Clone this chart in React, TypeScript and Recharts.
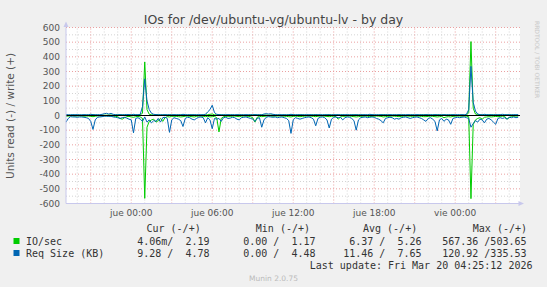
import { LineChart, Line, XAxis, YAxis, ReferenceLine, CartesianGrid } from "recharts"

// x values are minutes since Wed 00:00, one sample every 10 minutes
const startMinute = 1150
const endMinute = 3168
const stepMinutes = 10

// IO/sec, read (drawn below zero) and write
const ioRead = [
  5, 4, 3, 3, 4, 3, 3, 4, 5, 4,
  4, 6, 8, 5, 3, 3, 3, 2, 2, 3,
  4, 5, 6, 8, 20, 25, 15, 8, 6, 10,
  12, 8, 6, 10, 20, 565, 80, 40, 30, 25,
  45, 35, 20, 40, 15, 8, 10, 6, 5, 6,
  8, 10, 8, 5, 4, 6, 8, 10, 6, 4,
  4, 6, 8, 5, 10, 8, 6, 15, 112, 20,
  8, 6, 5, 6, 5, 4, 6, 8, 5, 4,
  4, 6, 8, 15, 45, 12, 6, 8, 6, 4,
  3, 4, 5, 4, 4, 3, 4, 5, 6, 8,
  10, 6, 5, 6, 8, 6, 5, 4, 4, 5,
  6, 8, 5, 4, 4, 5, 6, 8, 6, 5,
  8, 25, 10, 6, 5, 4, 4, 6, 8, 10,
  8, 6, 5, 4, 5, 8, 6, 5, 4, 5,
  6, 10, 8, 6, 5, 4, 5, 6, 8, 6,
  5, 4, 4, 5, 6, 5, 4, 5, 6, 8,
  8, 6, 5, 6, 8, 10, 8, 6, 15, 10,
  8, 10, 6, 5, 4, 4, 5, 4, 5, 8,
  567, 60, 30, 20, 15, 25, 12, 10, 8, 10,
  8, 6, 8, 6, 5, 6, 25, 15, 6, 5,
  4, 4,
]
const ioWrite = [
  3, 2, 2, 3, 2, 2, 3, 2, 2, 3,
  2, 3, 4, 3, 2, 2, 3, 2, 2, 3,
  3, 2, 3, 4, 5, 4, 3, 3, 4, 3,
  4, 3, 3, 5, 15, 365, 40, 8, 5, 4,
  5, 4, 3, 4, 3, 3, 4, 3, 2, 3,
  3, 4, 3, 2, 3, 3, 4, 3, 3, 2,
  3, 3, 4, 5, 8, 10, 5, 4, 6, 4,
  3, 3, 2, 3, 3, 2, 3, 4, 3, 3,
  2, 3, 3, 4, 5, 4, 3, 4, 3, 3,
  2, 3, 3, 2, 3, 3, 2, 3, 3, 4,
  5, 4, 3, 3, 4, 3, 3, 2, 3, 3,
  4, 5, 3, 3, 2, 3, 4, 5, 3, 3,
  3, 4, 3, 3, 2, 3, 3, 3, 4, 5,
  4, 3, 3, 2, 3, 4, 3, 3, 2, 3,
  3, 5, 4, 3, 3, 2, 3, 3, 4, 3,
  3, 2, 3, 3, 3, 2, 3, 3, 4, 4,
  5, 4, 3, 3, 4, 5, 4, 3, 4, 3,
  3, 4, 3, 3, 2, 3, 3, 2, 3, 20,
  504, 50, 10, 6, 5, 4, 4, 3, 3, 4,
  4, 3, 3, 3, 2, 3, 4, 3, 3, 2,
  3, 2,
]

// Req Size (KB), read and write
const reqRead = [
  45, 20, 8, 10, 10, 12, 10, 10, 12, 15,
  20, 40, 95, 30, 12, 10, 8, 5, 5, 6,
  5, 10, 12, 15, 20, 15, 12, 18, 25, 30,
  118, 20, 15, 25, 40, 10, 45, 30, 50, 35,
  40, 20, 45, 15, 12, 20, 115, 30, 15, 20,
  25, 35, 75, 20, 12, 15, 25, 30, 20, 12,
  10, 15, 50, 15, 30, 90, 20, 25, 20, 40,
  15, 12, 20, 18, 12, 15, 25, 30, 15, 12,
  10, 15, 20, 25, 40, 20, 15, 80, 30, 12,
  8, 10, 12, 10, 15, 12, 10, 15, 20, 35,
  122, 30, 15, 20, 25, 20, 15, 12, 10, 15,
  25, 70, 20, 12, 10, 15, 30, 85, 25, 12,
  10, 15, 12, 30, 15, 10, 12, 20, 35, 100,
  30, 15, 12, 10, 15, 12, 10, 12, 20, 25,
  35, 50, 20, 15, 12, 15, 25, 20, 25, 15,
  12, 10, 15, 20, 15, 12, 10, 15, 20, 30,
  40, 20, 15, 25, 40, 105, 30, 20, 40, 25,
  30, 60, 20, 15, 12, 15, 12, 10, 15, 20,
  80, 55, 35, 45, 25, 30, 50, 25, 20, 30,
  45, 60, 20, 15, 20, 15, 25, 12, 15, 10,
  15, 12,
]
const reqWrite = [
  6, 5, 5, 6, 5, 6, 5, 5, 6, 5,
  6, 8, 6, 5, 6, 5, 8, 12, 15, 10,
  14, 8, 6, 5, 6, 5, 6, 7, 6, 5,
  8, 6, 5, 8, 60, 250, 100, 40, 15, 8,
  6, 5, 6, 5, 6, 5, 6, 5, 6, 5,
  6, 5, 8, 6, 5, 6, 5, 6, 5, 6,
  5, 6, 8, 25, 40, 70, 20, 8, 6, 5,
  6, 5, 6, 5, 6, 5, 6, 5, 6, 5,
  6, 5, 6, 5, 6, 5, 6, 5, 10, 12,
  10, 12, 8, 6, 5, 6, 5, 6, 5, 6,
  8, 6, 5, 6, 5, 6, 5, 6, 5, 6,
  5, 6, 5, 6, 5, 6, 5, 6, 5, 6,
  5, 6, 5, 6, 5, 6, 5, 6, 5, 6,
  5, 6, 5, 6, 5, 8, 6, 5, 6, 5,
  6, 5, 6, 5, 6, 5, 6, 5, 6, 5,
  6, 5, 6, 5, 6, 5, 6, 5, 6, 5,
  6, 5, 6, 5, 6, 5, 6, 5, 6, 5,
  6, 5, 6, 5, 6, 5, 6, 5, 8, 40,
  335, 90, 30, 10, 6, 5, 8, 6, 5, 6,
  5, 6, 5, 6, 8, 6, 5, 6, 5, 6,
  5, 6,
]

const timeTicks = [1440, 1800, 2160, 2520, 2880]
const timeLabels = ["jue 00:00", "jue 06:00", "jue 12:00", "jue 18:00", "vie 00:00"]
const valueTicks = [-600, -500, -400, -300, -200, -100, 0, 100, 200, 300, 400, 500, 600]

// legend table
const seriesNames = ["IO/sec", "Req Size (KB)"]
const seriesColors = ["#00CC00", "#0066B3"]
const curValues = ["4.06m/  2.19", "9.28 /  4.78"]
const minValues = ["0.00 /  1.17", "0.00 /  4.48"]
const avgValues = ["6.37 /  5.26", "11.46 /  7.65"]
const maxValues = ["567.36 /503.65", "120.92 /335.53"]
const columnHeads = ["Cur (-/+)", "Min (-/+)", "Avg (-/+)", "Max (-/+)"]

const data = ioRead.map((v, i) => ({
  t: startMinute + i * stepMinutes,
  ioRead: -v,
  ioWrite: ioWrite[i],
  reqRead: -reqRead[i],
  reqWrite: reqWrite[i],
}))

// grid: grey every hour / 50 units, red every 3 hours / 100 units
const minorX: number[] = []
const majorX: number[] = []
for (let m = 1200; m < endMinute; m += 60) {
  if (m % 180 === 0) majorX.push(m)
  else minorX.push(m)
}
const minorY: number[] = []
for (let v = -550; v < 600; v += 100) minorY.push(v)
const majorY = valueTicks.filter((v) => v !== -600)

const sans = "'DejaVu Sans', sans-serif"
const mono = "'DejaVu Sans Mono', monospace"

export default function App() {
  const cellRight = [209.5, 315.5, 421.5, 526.5]
  const headLeft = [146.5, 255.8, 363, 472.8]

  return (
    <div style={{ position: "absolute", left: 0, top: 0, width: 547, height: 287, background: "#f0f0f0", overflow: "hidden" }}>
      <LineChart width={547} height={287} data={data} margin={{ top: 27.5, right: 27, bottom: 63.5, left: 16 }}>
        <CartesianGrid fill="#ffffff" stroke="none" horizontal={false} vertical={false} />
        {minorY.map((v) => (
          <ReferenceLine key={"my" + v} y={v} stroke="#d4d4d4" strokeDasharray="1 2" />
        ))}
        {minorX.map((m) => (
          <ReferenceLine key={"mx" + m} x={m} stroke="#d4d4d4" strokeDasharray="1 2" />
        ))}
        {majorY.map((v) => (
          <ReferenceLine key={"My" + v} y={v} stroke="#eaa0a0" strokeDasharray="1 2" />
        ))}
        {majorX.map((m) => (
          <ReferenceLine key={"Mx" + m} x={m} stroke="#eaa0a0" strokeDasharray="1 2" />
        ))}
        <XAxis
          dataKey="t"
          type="number"
          domain={[startMinute, endMinute]}
          ticks={timeTicks}
          tickFormatter={(v) => timeLabels[timeTicks.indexOf(v)] ?? ""}
          height={20}
          stroke="#c8c8ec"
          tickLine={false}
          tickSize={4}
          tickMargin={2}
          interval={0}
          tick={{ fill: "#555", fontSize: 9, fontFamily: sans }}
        />
        <YAxis
          type="number"
          domain={[-600, 600]}
          ticks={valueTicks}
          interval={0}
          width={50}
          stroke="#c8c8ec"
          tickLine={false}
          tickSize={4}
          tickMargin={2}
          tick={{ fill: "#555", fontSize: 9, fontFamily: sans }}
        />
        <Line dataKey="ioRead" stroke={seriesColors[0]} strokeWidth={1} dot={false} type="linear" isAnimationActive={false} />
        <Line dataKey="ioWrite" stroke={seriesColors[0]} strokeWidth={1} dot={false} type="linear" isAnimationActive={false} />
        <Line dataKey="reqRead" stroke={seriesColors[1]} strokeWidth={1} dot={false} type="linear" isAnimationActive={false} />
        <Line dataKey="reqWrite" stroke={seriesColors[1]} strokeWidth={1} dot={false} type="linear" isAnimationActive={false} />
        <ReferenceLine y={0} stroke="#000" strokeWidth={1} />
      </LineChart>

      <svg width={547} height={287} style={{ position: "absolute", left: 0, top: 0, pointerEvents: "none" }}>
        <polygon points="63.5,27 68.5,27 66,21.5" fill="#c8c8ec" />
        <polygon points="518.5,201 518.5,206 524,203.5" fill="#c8c8ec" />
        <text x={273.5} y={24} textAnchor="middle" fontFamily={sans} fontSize={12.5} fill="#444">
          IOs for /dev/ubuntu-vg/ubuntu-lv - by day
        </text>
        <text transform="translate(13.5,116) rotate(-90)" textAnchor="middle" fontFamily={sans} fontSize={10.5} fill="#555">
          Units read (-) / write (+)
        </text>
        <text transform="translate(535,21) rotate(90)" fontFamily={sans} fontSize={6} fill="#c8c8c8">
          RRDTOOL / TOBI OETIKER
        </text>
        {columnHeads.map((h, k) => (
          <text key={h} x={headLeft[k]} y={231.5} fontFamily={mono} fontSize={10} fill="#333" xmlSpace="preserve">
            {h}
          </text>
        ))}
        {seriesNames.map((name, r) => {
          const y = 244.5 + r * 12
          const cells = [curValues[r], minValues[r], avgValues[r], maxValues[r]]
          return (
            <g key={name}>
              <rect x={13.5} y={y - 6.5} width={6} height={6} fill={seriesColors[r]} />
              <text x={26} y={y} fontFamily={mono} fontSize={10} fill="#333">
                {name}
              </text>
              {cells.map((c, k) => (
                <text key={k} x={cellRight[k]} y={y} textAnchor="end" fontFamily={mono} fontSize={10} fill="#333" xmlSpace="preserve" style={{ whiteSpace: "pre" }}>
                  {c}
                </text>
              ))}
            </g>
          )
        })}
        <text x={532.5} y={268.5} textAnchor="end" fontFamily={mono} fontSize={10} fill="#333">
          Last update: Fri Mar 20 04:25:12 2026
        </text>
        <text x={273.5} y={281} textAnchor="middle" fontFamily={sans} fontSize={7.5} fill="#bbb">
          Munin 2.0.75
        </text>
      </svg>
    </div>
  )
}
